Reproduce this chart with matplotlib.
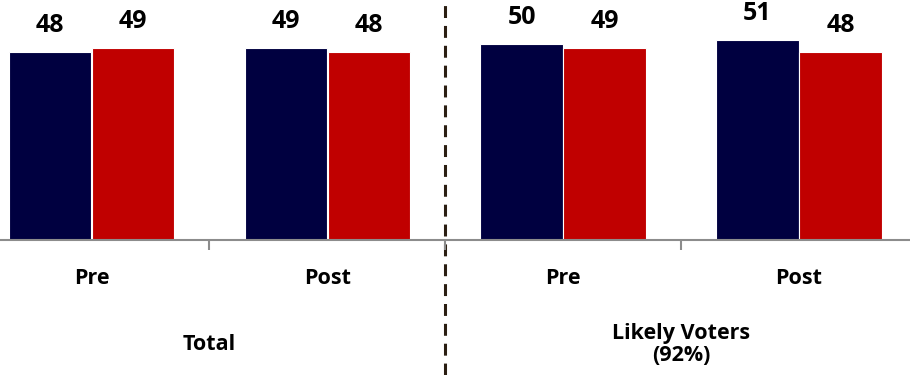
import matplotlib
matplotlib.use("Agg")
import matplotlib.pyplot as plt
import numpy as np

# ---------------------------------------------------------------------------
# Data
# ---------------------------------------------------------------------------
categories = ["Pre", "Post", "Pre", "Post"]
navy_values = [48, 49, 50, 51]
red_values = [49, 48, 49, 48]
group_labels = ["Total", "Likely Voters\n(92%)"]

NAVY = "#000040"
RED = "#C00000"
AXIS_GREY = "#8C8C8C"

plt.rcParams["font.family"] = ["Open Sans", "DejaVu Sans"]
plt.rcParams["font.weight"] = "bold"

fig_w, fig_h = 9.10, 3.75
fig = plt.figure(figsize=(fig_w, fig_h), dpi=100)

# Axes runs a little past the left edge of the figure (cropped original).
left_px, right_px = -26.5, 917.0
base_px = 240.0
ax = fig.add_axes([left_px / 910, (375 - base_px) / 375,
                   (right_px - left_px) / 910, base_px / 375])

x = np.arange(len(categories))
bar_w = 0.35
off = 0.176

b1 = ax.bar(x - off, navy_values, bar_w, color=NAVY,
            edgecolor="white", linewidth=0.8)
b2 = ax.bar(x + off, red_values, bar_w, color=RED,
            edgecolor="white", linewidth=0.8)

for bars, vals in ((b1, navy_values), (b2, red_values)):
    for rect, v in zip(bars, vals):
        ax.annotate(f"{v}",
                    xy=(rect.get_x() + rect.get_width() / 2, rect.get_height()),
                    xytext=(0, 14.3), textcoords="offset points",
                    ha="center", va="baseline",
                    fontsize=18, fontweight="bold", color="black")

ax.set_xlim(-0.5, len(categories) - 0.5)
ax.set_ylim(0, base_px / 3.917)

for side in ("top", "right", "left"):
    ax.spines[side].set_visible(False)
ax.spines["bottom"].set_color(AXIS_GREY)
ax.spines["bottom"].set_linewidth(1.5)
ax.set_yticks([])

ax.set_xticks(x)
ax.set_xticklabels(categories, fontsize=15.5, fontweight="bold")
ax.tick_params(axis="x", which="major", length=0, pad=20)
ax.set_xticks(x[:-1] + 0.5, minor=True)
ax.tick_params(axis="x", which="minor", length=7, width=1.5,
               color=AXIS_GREY)

# Group labels under each pair of categories
trans = ax.get_xaxis_transform()
for gi, label in enumerate(group_labels):
    ax.text(2 * gi + 0.5, -0.435, label, transform=trans,
            ha="center", va="center", fontsize=15.5, fontweight="bold",
            linespacing=1.1)

# Dashed divider between the two groups, running the full figure height
ax.axvline(1.5, ymin=-(375 - base_px) / base_px, ymax=1.0, clip_on=False,
           color="#2A1E12", linewidth=2.2, dashes=(3.9, 2.6), zorder=0)

fig.savefig("out.png", dpi=100)
